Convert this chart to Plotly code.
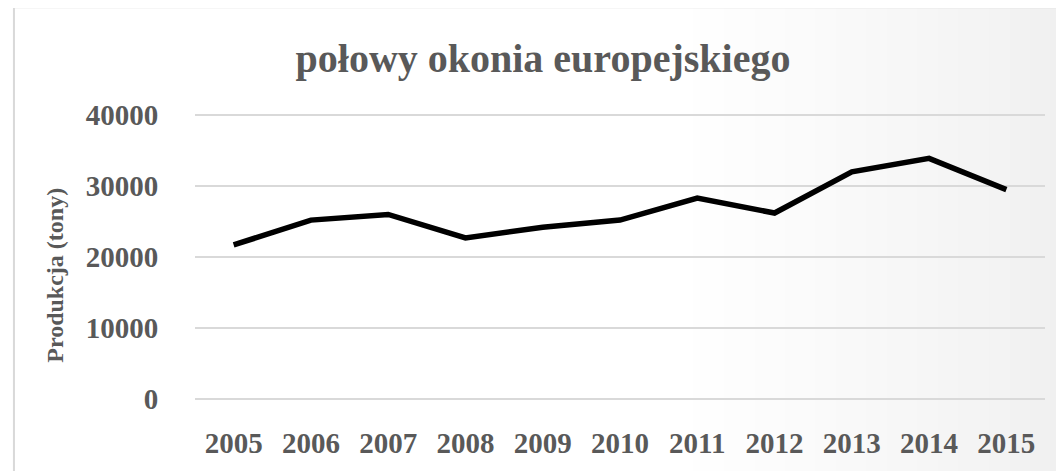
import plotly.graph_objects as go

years = ['2005', '2006', '2007', '2008', '2009', '2010', '2011', '2012', '2013', '2014', '2015']
production = [21700, 25200, 26000, 22700, 24200, 25200, 28300, 26200, 32000, 33900, 29500]
y_ticks = [0, 10000, 20000, 30000, 40000]

SERIF = 'Palatino Linotype, Book Antiqua, Liberation Serif, serif'
GREY = '#595959'

fig = go.Figure()
fig.add_trace(go.Scatter(x=years, y=production, mode='lines',
                         line=dict(color='black', width=5.5), hoverinfo='x+y'))

# soft background gradient toward the right edge
shapes = []
n = 40
x_start, x_end = 0.55, 1.03
for i in range(n):
    a = x_start + (x_end - x_start) * i / n
    b = x_start + (x_end - x_start) * (i + 1) / n
    c = int(round(255 - 15 * (i / (n - 1)) ** 1.2))
    shapes.append(dict(type='rect', xref='paper', yref='paper', x0=a, x1=b + 0.002,
                       y0=-0.3, y1=1.45, fillcolor=f'rgb({c},{c},{c})',
                       line=dict(width=0), layer='below'))
# chart border
shapes.append(dict(type='rect', xref='paper', yref='paper', x0=-0.213, x1=1.2,
                   y0=-0.4, y1=1.367, fillcolor='rgba(0,0,0,0)',
                   line=dict(color='#d9d9d9', width=2), layer='below'))

fig.update_layout(
    width=1056, height=463,
    margin=dict(l=187, r=19, t=105, b=70),
    paper_bgcolor='white', plot_bgcolor='rgba(0,0,0,0)',
    showlegend=False,
    shapes=shapes,
    title=dict(text='<b>połowy okonia europejskiego</b>', x=0.5066, xanchor='center',
               y=1 - 50 / 463, yanchor='middle', yref='container',
               font=dict(family=SERIF, size=40, color=GREY)),
    annotations=[dict(text='<b>Produkcja (tony)</b>', xref='paper', yref='paper',
                      x=-0.165, y=0.4376, xanchor='center', yanchor='middle',
                      textangle=-90, showarrow=False,
                      font=dict(family=SERIF, size=24, color=GREY))],
)
fig.update_xaxes(type='category', range=[-0.5, 10.5], showgrid=False, showline=False,
                 ticks='outside', ticklen=16, tickcolor='rgba(0,0,0,0)',
                 tickfont=dict(family=SERIF, size=29, color=GREY),
                 tickprefix='<b>', ticksuffix='</b>')
fig.update_yaxes(range=[-300, 40300], tickvals=y_ticks, ticktext=[f'<b>{v}</b>' for v in y_ticks],
                 showgrid=True, gridcolor='#d9d9d9', gridwidth=2,
                 zeroline=True, zerolinecolor='#d9d9d9', zerolinewidth=2, showline=False,
                 ticks='outside', ticklen=30, tickcolor='rgba(0,0,0,0)',
                 tickfont=dict(family=SERIF, size=29, color=GREY))

fig.write_html('out.html')
